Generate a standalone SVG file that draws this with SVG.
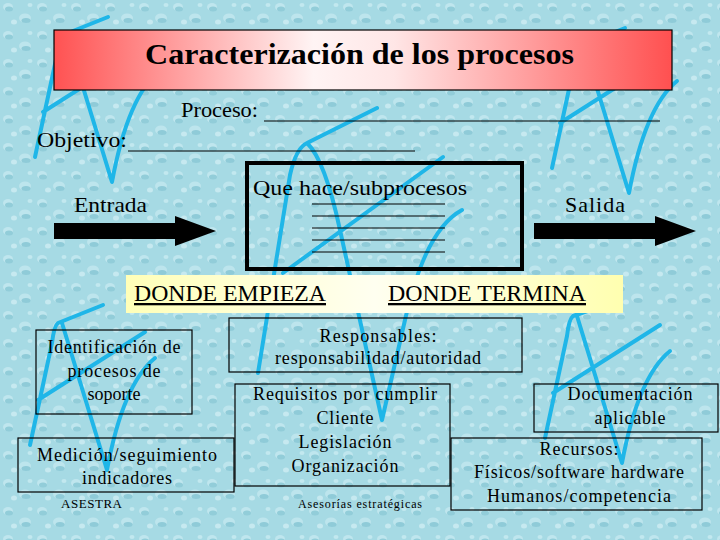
<svg xmlns="http://www.w3.org/2000/svg" width="720" height="540" viewBox="0 0 720 540">
<defs>
<pattern id="drops" width="34" height="28" patternUnits="userSpaceOnUse">
<rect width="34" height="28" fill="#a6dae4"/>
<ellipse cx="8" cy="7" rx="5" ry="4" fill="#bfe6ee"/>
<ellipse cx="9" cy="9" rx="4" ry="2.5" fill="#92cdd9"/>
<ellipse cx="25" cy="18" rx="6" ry="4.5" fill="#bde5ed"/>
<ellipse cx="26" cy="20.5" rx="4.5" ry="2.5" fill="#8fcbd8"/>
<ellipse cx="14" cy="22" rx="3" ry="2.5" fill="#c6e9f0"/>
<ellipse cx="30" cy="5" rx="2.5" ry="2" fill="#c2e8ef"/>
</pattern>
<linearGradient id="titleGrad" x1="0" y1="0" x2="1" y2="0">
<stop offset="0" stop-color="#ff5252"/>
<stop offset="0.42" stop-color="#fff4f4"/>
<stop offset="0.55" stop-color="#ffe6e6"/>
<stop offset="1" stop-color="#ff5050"/>
</linearGradient>
<linearGradient id="bandGrad" x1="0" y1="0" x2="1" y2="0">
<stop offset="0" stop-color="#ffffb8"/>
<stop offset="0.5" stop-color="#fffff0"/>
<stop offset="1" stop-color="#ffffb0"/>
</linearGradient>
<style>
.scr{fill:none;stroke:#1fb6e8;stroke-width:4;stroke-linecap:round;stroke-linejoin:round}
.t{font-family:"Liberation Serif","Times New Roman",serif;fill:#000}
.big{font-size:22px}
.box{fill:none;stroke:#000;stroke-width:1.2}
.bx{font-size:18px;text-anchor:middle}
.ln{stroke:#000;stroke-width:1}
</style>
</defs>
<rect width="720" height="540" fill="url(#drops)"/>
<g id="scribbles">
<path class="scr" d="M35,157 L57,55 Q59,38 63,35 L108,17 M43,112 L150,44 M67,35 L112,182 Q128,96 160,70"/>
<path class="scr" d="M552,168 L574,66 Q576,49 580,46 L625,28 M560,123 L667,55 M584,46 L629,193 Q645,107 677,81"/>
<path class="scr" d="M30,445 L52,343 Q54,326 58,323 L103,305 M38,400 L145,332 M62,323 L107,470 Q123,384 155,358"/>
<path class="scr" d="M545,438 L567,336 Q569,319 573,316 L605,305 M553,393 L660,325 M577,316 L622,463 Q638,377 670,351"/>
<path class="scr" d="M258,373 L290,175 Q296,148 307,143 L377,108 M283,273 L443,157 M307,143 Q325,160 340,230 L382,420 L405,320 Q425,230 462,210"/>
</g>
<g id="title">
<rect x="54" y="30" width="618" height="60" fill="url(#titleGrad)" stroke="#000" stroke-width="1.2"/>
<text class="t" x="145" y="64" font-size="30" font-weight="bold" textLength="429" lengthAdjust="spacingAndGlyphs">Caracterización de los procesos</text>
</g>
<g id="proceso">
<text class="t big" x="181" y="117" textLength="77" lengthAdjust="spacingAndGlyphs">Proceso:</text>
<line class="ln" x1="264" y1="121" x2="660" y2="121"/>
</g>
<g id="objetivo">
<text class="t big" x="37" y="147" textLength="90" lengthAdjust="spacingAndGlyphs">Objetivo:</text>
<line class="ln" x1="128" y1="151" x2="415" y2="151"/>
</g>
<g id="entrada">
<text class="t big" x="74" y="212" textLength="73" lengthAdjust="spacingAndGlyphs">Entrada</text>
</g>
<g id="salida">
<text class="t big" x="565" y="212" textLength="60" lengthAdjust="spacing">Salida</text>
</g>
<g id="subprocesos">
<rect x="247" y="163" width="275" height="106" fill="none" stroke="#000" stroke-width="4"/>
<text class="t big" x="253" y="195" textLength="214" lengthAdjust="spacingAndGlyphs">Que hace/subprocesos</text>
<line class="ln" x1="312" y1="204" x2="445" y2="204"/>
<line class="ln" x1="312" y1="216" x2="445" y2="216"/>
<line class="ln" x1="312" y1="228" x2="445" y2="228"/>
<line class="ln" x1="312" y1="240" x2="445" y2="240"/>
<line class="ln" x1="312" y1="252" x2="445" y2="252"/>
</g>
<g id="connectors">
<polygon points="54,223 175,223 175,216 216,231 175,246 175,239 54,239" fill="#000"/>
<polygon points="534,223 655,223 655,216 696,231 655,246 655,239 534,239" fill="#000"/>
</g>
<g id="donde">
<rect x="126" y="275" width="497" height="38" fill="url(#bandGrad)"/>
<text class="t" x="134" y="301" font-size="23" textLength="192" lengthAdjust="spacingAndGlyphs" text-decoration="underline">DONDE EMPIEZA</text>
<text class="t" x="388" y="301" font-size="23" textLength="198" lengthAdjust="spacingAndGlyphs" text-decoration="underline">DONDE TERMINA</text>
</g>
<g id="identificacion">
<rect class="box" x="36" y="330" width="156" height="84"/>
<text class="t bx" x="114" y="353" textLength="133" lengthAdjust="spacing">Identificación de</text>
<text class="t bx" x="114" y="377" textLength="93" lengthAdjust="spacing">procesos de</text>
<text class="t bx" x="114" y="400">soporte</text>
</g>
<g id="medicion">
<rect class="box" x="18" y="438" width="216" height="54"/>
<text class="t bx" x="127" y="461" textLength="180" lengthAdjust="spacing">Medición/seguimiento</text>
<text class="t bx" x="127" y="484" textLength="90" lengthAdjust="spacing">indicadores</text>
</g>
<g id="responsables">
<rect class="box" x="229" y="318" width="293" height="54"/>
<text class="t bx" x="378" y="342" textLength="117" lengthAdjust="spacing">Responsables:</text>
<text class="t bx" x="378" y="364" textLength="206" lengthAdjust="spacing">responsabilidad/autoridad</text>
</g>
<g id="requisitos">
<rect class="box" x="235" y="384" width="215" height="102"/>
<text class="t bx" x="345" y="400" textLength="184" lengthAdjust="spacing">Requisitos por cumplir</text>
<text class="t bx" x="345" y="424" textLength="57" lengthAdjust="spacing">Cliente</text>
<text class="t bx" x="345" y="448" textLength="93" lengthAdjust="spacing">Legislación</text>
<text class="t bx" x="345" y="472" textLength="107" lengthAdjust="spacing">Organización</text>
</g>
<g id="documentacion">
<rect class="box" x="534" y="384" width="184" height="48"/>
<text class="t bx" x="630" y="400" textLength="125" lengthAdjust="spacing">Documentación</text>
<text class="t bx" x="630" y="424" textLength="71" lengthAdjust="spacing">aplicable</text>
</g>
<g id="recursos">
<rect class="box" x="451" y="438" width="251" height="72"/>
<text class="t bx" x="579" y="455" textLength="79" lengthAdjust="spacing">Recursos:</text>
<text class="t bx" x="579" y="478" textLength="210" lengthAdjust="spacing">Físicos/software hardware</text>
<text class="t bx" x="579" y="502" textLength="184" lengthAdjust="spacing">Humanos/competencia</text>
</g>
<g id="footer">
<text class="t" x="61" y="508" font-size="13" textLength="61" lengthAdjust="spacing">ASESTRA</text>
<text class="t" x="298" y="508" font-size="12" textLength="124" lengthAdjust="spacing">Asesorías estratégicas</text>
</g>
</svg>
